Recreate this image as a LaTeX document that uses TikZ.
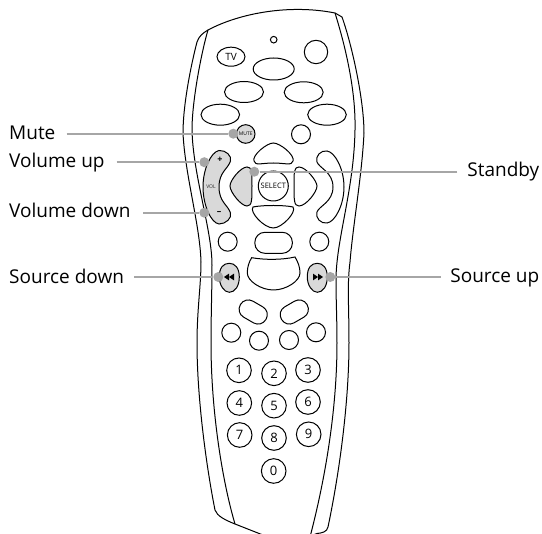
\documentclass[tikz,border=0pt]{standalone}
\usepackage{fontspec}
\setmainfont{Open Sans}
\usetikzlibrary{calc,shapes.geometric}
\definecolor{btn}{HTML}{D9D9D9}
\definecolor{lead}{HTML}{A6A6A6}
\tikzset{
 ol/.style={draw=black,line width=1pt,fill=white},
 gb/.style={draw=black,line width=1pt,fill=btn},
 rnd/.style={ol,circle,minimum size=#1*2pt,inner sep=0pt},
 key/.style={rnd=12.3,font=\fontsize{13}{14}\selectfont},
 dot/.style={circle,fill=lead,minimum size=10pt,inner sep=0pt},
 leader/.style={draw=lead,line width=2.2pt},
 lab/.style={inner sep=0pt,font=\fontsize{19}{21}\selectfont,text=black},
 tiny/.style={font=\fontsize{5}{6}\selectfont,text=black!85},
 stad/.style={ol,rectangle,rounded corners=9pt,minimum width=29.5pt,minimum height=18.5pt,inner sep=0pt},
}
\begin{document}
\begin{tikzpicture}[x=1pt,y=-1pt]
\useasboundingbox (0,0) rectangle (542,534);
% body outer
\draw[ol] (208,30) .. controls (203,33) and (199,36) .. (197,42)
 .. controls (191,65) and (183,105) .. (183,133)
 .. controls (185,175) and (200,225) .. (201,262)
 .. controls (201,285) and (197,310) .. (197,343)
 .. controls (197,400) and (207,470) .. (215,510)
 .. controls (217,516) and (225,520) .. (235,524)
 -- (268,537) -- (308,537) -- (317,533.5)
 .. controls (322,533) and (327,532) .. (328,527)
 .. controls (340,470) and (349,400) .. (349,343)
 .. controls (349,305) and (347,285) .. (350,262)
 .. controls (353,225) and (362,175) .. (364,133)
 .. controls (364,100) and (352,45) .. (342,17)
 -- (335,13)
 .. controls (290,4) and (240,13) .. (208,30) -- cycle;
% inner left/right lines
\draw[ol,fill=none] (208,30) .. controls (202,50) and (192,100) .. (192,130)
 .. controls (193,175) and (212,230) .. (212,265)
 .. controls (212,290) and (211,315) .. (211,343)
 .. controls (211,410) and (222,480) .. (235,524);
\draw[ol,fill=none] (335,13) .. controls (345,45) and (356,90) .. (355,130)
 .. controls (354,190) and (336,240) .. (336,280)
 .. controls (336,300) and (337,320) .. (337,343)
 .. controls (337,410) and (325,480) .. (310,537);
% top buttons
\node[rnd=3.3] (led) at (273.7,39.7) {};
\node[ol,ellipse,minimum width=28pt,minimum height=19pt,inner sep=0pt,font=\fontsize{10}{11}\selectfont] (tv) at (231,56.7) {TV};
\node[rnd=11.7] (c1) at (316,52) {};
\foreach \n/\x/\y/\rx/\ry in {e1/273.7/69/20.5/11,e2/244/92/19.5/10.5,e3/303.7/92.3/19.5/10.5,e4/220.3/114.7/19.3/10.5,e5/327/114.7/19.3/10.5}
 \node[ol,ellipse,minimum width=2*\rx pt,minimum height=2*\ry pt,inner sep=0pt] (\n) at (\x,\y) {};
\node[rnd=9.3,fill=btn,font=\fontsize{5}{6}\selectfont] (mute) at (245.7,134) {MUTE};
\node[rnd=9.5] (c2) at (301,134.3) {};
% d-pad
\draw[ol] (273.3,143) .. controls (280,143) and (295,155) .. (293,161)
 .. controls (292,166) and (285,163) .. (273.3,163)
 .. controls (262,163) and (255,166) .. (254,161)
 .. controls (252,155) and (267,143) .. (273.3,143) -- cycle;
\draw[ol] (253,207) .. controls (262,205) and (285,205) .. (293,207)
 .. controls (297,212) and (282,228) .. (273.3,228)
 .. controls (264,228) and (249,212) .. (253,207) -- cycle;
\draw[gb] (247,167) .. controls (241,167) and (230,180) .. (230,186)
 .. controls (230,192) and (241,206) .. (247,206)
 .. controls (252,206) and (252,200) .. (252,186)
 .. controls (252,172) and (252,167) .. (247,167) -- cycle;
\draw[ol] (299,167) .. controls (306,167) and (317,181) .. (317,186)
 .. controls (317,192) and (306,206) .. (299,206)
 .. controls (294,206) and (294,200) .. (294,186)
 .. controls (294,172) and (294,167) .. (299,167) -- cycle;
\node[rnd=15,font=\fontsize{7.5}{8}\selectfont] (sel) at (273.3,186) {SELECT};
% volume rocker
\draw[gb] (219,150.5) .. controls (226,150) and (232,156) .. (230.5,161)
 .. controls (228,169) and (219,172) .. (219,187)
 .. controls (219,202) and (228,205) .. (230.5,213)
 .. controls (232,218) and (226,224) .. (219,224)
 .. controls (211,223) and (203,205) .. (203,187)
 .. controls (203,169) and (211,152) .. (219,150.5) -- cycle;
\draw[ol] (327,151) .. controls (321,150) and (315,156) .. (317,162)
 .. controls (319,168) and (333,172) .. (333,187)
 .. controls (333,202) and (319,206) .. (317,212)
 .. controls (315,218) and (321,224) .. (327,223)
 .. controls (335,222) and (344,205) .. (344,187)
 .. controls (344,169) and (335,152) .. (327,151) -- cycle;
\node[font=\fontsize{9}{9}\selectfont] (vup) at (220,160) {\textbf{+}};
\node[font=\fontsize{9}{9}\selectfont] (vdn) at (219,213) {\textbf{–}};
\node[tiny] (vol) at (211,187) {VOL};
% mid row
\node[rnd=9.5] (c3) at (227.7,241.7) {};
\node[rnd=9.5] (c4) at (319.3,241.7) {};
\node[ol,rectangle,rounded corners=10pt,minimum width=37.5pt,minimum height=21pt,inner sep=0pt] (pill) at (273.6,242.8) {};
% big button
\draw[ol] (251.7,257.7) .. controls (265,260) and (282,260) .. (295,257)
 .. controls (298,262) and (300,267) .. (300,273)
 .. controls (300,281) and (286,290) .. (273.5,290)
 .. controls (261,290) and (247.3,281) .. (247.3,273)
 .. controls (247.3,267) and (249,262) .. (251.7,257.7) -- cycle;
% transport
\draw[gb] (229.3,263.3) .. controls (235,263.3) and (239.3,268) .. (239.3,277)
 .. controls (239.3,286) and (235,292.3) .. (229.3,292.3)
 .. controls (224,292.3) and (219.3,285) .. (219.3,277)
 .. controls (219.3,268) and (223,263.3) .. (229.3,263.3) -- cycle;
\draw[gb] (317.3,263.3) .. controls (323,263.3) and (327.3,268) .. (327.3,277)
 .. controls (327.3,286) and (323,292.3) .. (317.3,292.3)
 .. controls (312,292.3) and (307.3,285) .. (307.3,277)
 .. controls (307.3,268) and (311,263.3) .. (317.3,263.3) -- cycle;
\fill (224,277) -- (229,273.6) -- (229,280.4) -- cycle;
\fill (229,277) -- (234,273.6) -- (234,280.4) -- cycle;
\fill (318,277) -- (313,273.6) -- (313,280.4) -- cycle;
\fill (323,277) -- (318,273.6) -- (318,280.4) -- cycle;
% tilted ovals
\node[stad,rotate=-30] (o1) at (253.2,312) {};
\node[stad,rotate=30] (o2) at (294.3,312) {};
\node[rnd=9.5] (c5) at (231.3,332.7) {};
\node[rnd=9.5] (c6) at (259,340.7) {};
\node[rnd=9.5] (c7) at (289,340) {};
\node[rnd=9.5] (c8) at (316,332.3) {};
% keypad
\node[key] (k1) at (239,370.3) {1};
\node[key] (k2) at (274,373.3) {2};
\node[key] (k3) at (308,370) {3};
\node[key] (k4) at (239.3,403) {4};
\node[key] (k5) at (274,405.7) {5};
\node[key] (k6) at (308,402) {6};
\node[key] (k7) at (239.7,435) {7};
\node[key] (k8) at (274,438) {8};
\node[key] (k9) at (308.7,434.3) {9};
\node[key] (k0) at (273.7,471) {0};
% labels
\node[lab,anchor=base west] (lmute) at (9,140) {Mute};
\node[lab,anchor=base west] (lup) at (9,168) {Volume up};
\node[lab,anchor=base west] (ldn) at (9,218) {Volume down};
\node[lab,anchor=base west] (lsd) at (9,284) {Source down};
\node[lab,anchor=base east] (lst) at (539.5,177) {Standby};
\node[lab,anchor=base east] (lsu) at (539.5,283) {Source up};
% leader free ends
\coordinate (smute) at (66.7,133.7);
\coordinate (sup) at (116.7,162.2);
\coordinate (sdn) at (143.3,212.7);
\coordinate (ssd) at (134.3,277);
\coordinate (sst) at (457.3,171.7);
\coordinate (ssu) at (440.7,277);
% dots
\node[dot] (dmute) at (233.3,133.7) {};
\node[dot] (dup) at (204.3,162.2) {};
\node[dot] (ddn) at (204.3,212.7) {};
\node[dot] (dst) at (254.3,171.7) {};
\node[dot] (dsd) at (218.3,277) {};
\node[dot] (dsu) at (330.3,277) {};
% leaders
\draw[leader] (smute) -- (dmute);
\draw[leader] (sup) -- (dup);
\draw[leader] (sdn) -- (ddn);
\draw[leader] (ssd) -- (dsd);
\draw[leader] (sst) -- (dst);
\draw[leader] (ssu) -- (dsu);
\end{tikzpicture}
\end{document}
